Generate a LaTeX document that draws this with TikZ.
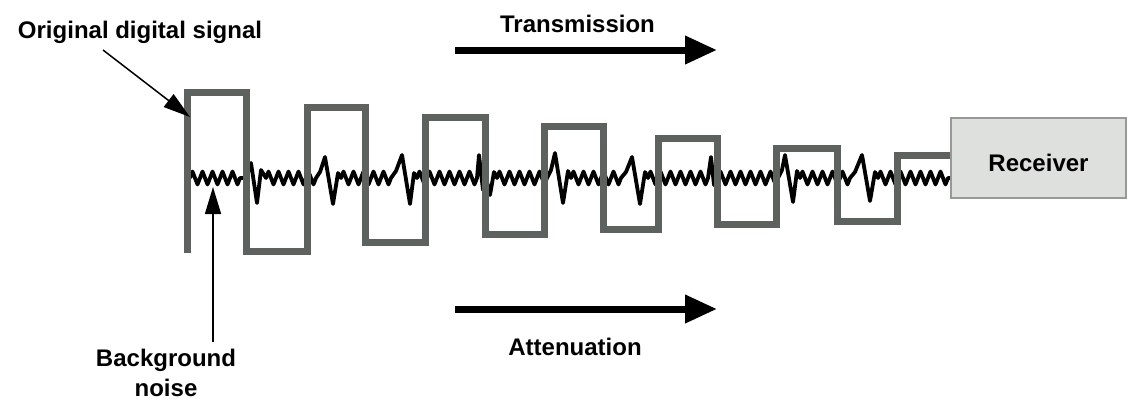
\documentclass[tikz,border=0pt]{standalone}
\usepackage{fontspec}
\setmainfont{Liberation Sans}
\usetikzlibrary{arrows.meta}
\definecolor{wavegray}{RGB}{94,98,94}
\definecolor{rxfill}{RGB}{222,224,221}
\definecolor{rxdraw}{RGB}{150,153,149}
\newcommand\zg[1]{\foreach \k in {1,...,#1}{ -- ++(2.5,-6.5) -- ++(5,13) -- ++(2.5,-6.5)}}
\begin{document}
\begin{tikzpicture}[x=1pt,y=-1pt,
  lbl/.style={font=\fontsize{24}{28}\selectfont\bfseries, inner sep=0pt, anchor=base},
  bigarrow/.style={line width=7pt, -{Triangle[length=32pt,width=27pt]}},
  thinarrow/.style={line width=1.5pt, -{Triangle[length=27pt,width=16pt]}},
  wave/.style={draw=wavegray, line width=7pt, line join=miter},
  noise/.style={draw=black, line width=3.8pt, line join=round},
  rxbox/.style={draw=rxdraw, fill=rxfill, line width=1.5pt, minimum width=175pt, minimum height=80pt, inner sep=0pt,
    font=\fontsize{24}{28}\selectfont\bfseries}]
\useasboundingbox (0,0) rectangle (1127,400);

% background noise
\path[noise] (190,178) \zg{5} -- (246,178) -- (251,163) -- (257,203) -- (261,170) -- (266,178)
  \zg{5} -- (320,172) -- (325,157) -- (333,204) -- (338,173) -- (341,178)
  \zg{5} -- (396,171) -- (402,155) -- (410,204) -- (414,173) -- (417,178)
  \zg{6} -- (479,155) -- (483,190) -- (486,178) -- (490,195) -- (494,172) -- (497,178)
  \zg{5} -- (551,170) -- (555,153) -- (563,203) -- (568,171) -- (571,178)
  \zg{5} -- (626,172) -- (632,157) -- (640,204) -- (645,172) -- (648,178)
  \zg{6} -- (711,157) -- (714,185) -- (718,178)
  \zg{6} -- (782,170) -- (785,155) -- (793,202) -- (797,171) -- (800,178)
  \zg{5} -- (855,172) -- (862,155) -- (870,201) -- (875,172) -- (878,178)
  \zg{7} -- (951,178);

% digital signal
\path[wave] (187,253) -- (187,92) -- (246.5,92) -- (246.5,251) -- (307,251) -- (307,107)
  -- (365.5,107) -- (365.5,242) -- (425.5,242) -- (425.5,117) -- (485.5,117) -- (485.5,234)
  -- (544.5,234) -- (544.5,126.5) -- (603,126.5) -- (603,229.5) -- (658.5,229.5) -- (658.5,138)
  -- (717,138) -- (717,224.5) -- (776.5,224.5) -- (776.5,148) -- (837,148) -- (837,221)
  -- (897,221) -- (897,155) -- (951,155);

% receiver
\node[rxbox] (rx) at (1038.5,158) {};
\node[lbl] (rxt) at ([yshift=-13pt]rx.center) {Receiver};

% labels
\node[lbl] (ods) at (140,38) {Original digital signal};
\node[lbl] (tx) at (577.5,32) {Transmission};
\node[lbl] (att) at (575,355) {Attenuation};
\node[lbl] (bg) at (166,366) {Background};
\node[lbl] (bgn) at (166,396) {noise};

% arrows
\coordinate (odsTail) at (103,50);
\coordinate (odsTip) at (190,117);
\draw[thinarrow] (odsTail) -- (odsTip);
\coordinate (bgTail) at (213,342);
\coordinate (bgTip) at (213,187);
\draw[thinarrow] (bgTail) -- (bgTip);
\coordinate (txA) at (455,50);
\coordinate (txB) at (717,50);
\draw[bigarrow] (txA) -- (txB);
\coordinate (atA) at (455,309);
\coordinate (atB) at (717,309);
\draw[bigarrow] (atA) -- (atB);
\end{tikzpicture}
\end{document}
